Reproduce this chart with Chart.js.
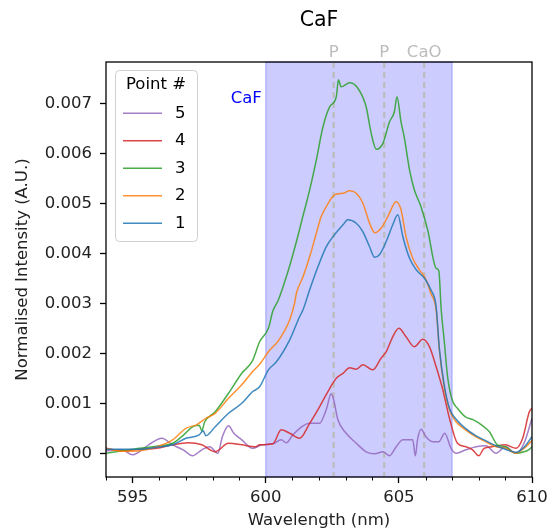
<!DOCTYPE html>
<html lang="en">

<head>
    <meta charset="UTF-8">
    <title>CaF</title>
    <script src="https://cdn.jsdelivr.net/npm/chart.js@4"></script>
    <style>
        body { margin: 0; background: #ffffff; }
    </style>
</head>

<body>
    <canvas id="myChart" width="549" height="531"></canvas>

    <script>
        // Point 1 (blue)
        const wl1 = [594.0, 595.25, 595.9, 596.5, 597.0, 597.5, 597.65, 597.75, 598.1, 598.6, 599.1, 599.5, 599.77, 600.1, 600.4, 600.9, 601.27, 601.4, 601.65, 601.96, 602.27, 602.58, 602.9, 603.08, 603.4, 603.65, 603.9, 604.09, 604.27, 604.52, 604.77, 604.96, 605.15, 605.4, 605.65, 605.96, 606.2, 606.4, 606.52, 606.7, 606.9, 607.15, 607.5, 607.9, 608.27, 608.65, 609.0, 609.4, 609.7, 610.0];
        const int1 = [0.00008, 0.00008, 0.00012, 0.00017, 0.00030, 0.00037, 0.00045, 0.00035, 0.00053, 0.00080, 0.00100, 0.00123, 0.00133, 0.00167, 0.00183, 0.00227, 0.00273, 0.00287, 0.00327, 0.00373, 0.00413, 0.00437, 0.00457, 0.00467, 0.00460, 0.00443, 0.00413, 0.00392, 0.00397, 0.00423, 0.00457, 0.00477, 0.00433, 0.00390, 0.00367, 0.00350, 0.00327, 0.00293, 0.00210, 0.00138, 0.00090, 0.00068, 0.00050, 0.00035, 0.00025, 0.00015, 0.00008, 0.00002, 0.00012, 0.00033];

        // Point 2 (orange)
        const wl2 = [594.0, 594.6, 595.25, 595.9, 596.5, 597.0, 597.4, 597.75, 598.1, 598.6, 599.1, 599.5, 599.8, 600.1, 600.5, 600.9, 601.08, 601.15, 601.4, 601.65, 601.9, 602.08, 602.27, 602.58, 602.9, 603.15, 603.4, 603.65, 603.9, 604.1, 604.33, 604.58, 604.9, 605.08, 605.27, 605.52, 605.77, 606.02, 606.2, 606.4, 606.52, 606.7, 606.9, 607.15, 607.5, 607.9, 608.27, 608.65, 609.0, 609.4, 609.7, 610.0];
        const int2 = [0.00010, 0.00004, 0.00005, 0.00013, 0.00027, 0.00050, 0.00057, 0.00070, 0.00080, 0.00110, 0.00137, 0.00163, 0.00180, 0.00203, 0.00227, 0.00267, 0.00300, 0.00320, 0.00353, 0.00393, 0.00440, 0.00473, 0.00493, 0.00517, 0.00520, 0.00525, 0.00520, 0.00500, 0.00460, 0.00441, 0.00450, 0.00473, 0.00503, 0.00487, 0.00433, 0.00390, 0.00367, 0.00347, 0.00320, 0.00287, 0.00207, 0.00133, 0.00087, 0.00063, 0.00047, 0.00033, 0.00023, 0.00013, 0.00010, 0.00000, 0.00010, 0.00025];

        // Point 3 (green)
        const wl3 = [594.0, 594.5, 595.0, 595.25, 595.9, 596.5, 596.9, 597.25, 597.5, 597.6, 597.7, 598.1, 598.6, 599.1, 599.5, 599.77, 600.1, 600.27, 600.46, 600.65, 600.9, 601.15, 601.4, 601.65, 601.9, 602.15, 602.4, 602.65, 602.73, 602.83, 603.15, 603.46, 603.77, 603.96, 604.15, 604.4, 604.65, 604.83, 604.93, 605.08, 605.2, 605.4, 605.58, 605.83, 606.08, 606.4, 606.5, 606.59, 606.7, 606.83, 607.0, 607.2, 607.5, 607.8, 608.1, 608.4, 608.7, 609.0, 609.4, 609.7, 609.9, 610.0];
        const int3 = [0.00000, 0.00004, 0.00008, 0.00010, 0.00014, 0.00020, 0.00036, 0.00053, 0.00056, 0.00045, 0.00062, 0.00083, 0.00120, 0.00160, 0.00185, 0.00223, 0.00250, 0.00285, 0.00305, 0.00333, 0.00375, 0.00423, 0.00475, 0.00527, 0.00587, 0.00653, 0.00693, 0.00713, 0.00747, 0.00733, 0.00741, 0.00730, 0.00693, 0.00640, 0.00608, 0.00620, 0.00663, 0.00683, 0.00713, 0.00663, 0.00633, 0.00567, 0.00527, 0.00493, 0.00447, 0.00370, 0.00365, 0.00287, 0.00227, 0.00153, 0.00107, 0.00090, 0.00073, 0.00067, 0.00057, 0.00043, 0.00017, 0.00013, 0.00000, 0.00003, 0.00008, 0.00013];

        // Point 4 (red)
        const wl4 = [594.0, 594.6, 595.25, 595.9, 596.5, 597.1, 597.6, 598.1, 598.6, 599.1, 599.6, 599.77, 600.27, 600.58, 600.9, 601.27, 601.65, 602.02, 602.33, 602.65, 602.9, 603.15, 603.4, 603.65, 604.02, 604.33, 604.52, 604.77, 605.0, 605.27, 605.58, 605.9, 606.15, 606.4, 606.65, 606.9, 607.2, 607.52, 607.77, 608.0, 608.2, 608.5, 609.0, 609.4, 609.65, 609.9, 610.0];
        const int4 = [0.00010, 0.00005, 0.00008, 0.00010, 0.00017, 0.00021, 0.00017, 0.00003, 0.00020, 0.00017, 0.00013, 0.00017, 0.00019, 0.00047, 0.00040, 0.00030, 0.00060, 0.00093, 0.00123, 0.00150, 0.00160, 0.00171, 0.00168, 0.00177, 0.00167, 0.00190, 0.00203, 0.00233, 0.00250, 0.00233, 0.00213, 0.00228, 0.00213, 0.00173, 0.00127, 0.00070, 0.00020, 0.00013, 0.00007, -0.00005, 0.00010, 0.00013, 0.00017, 0.00010, 0.00030, 0.00083, 0.00090];

        // Point 5 (purple)
        const wl5 = [594.0, 594.6, 595.0, 595.6, 596.1, 596.5, 596.9, 597.25, 597.6, 597.9, 598.2, 598.37, 598.6, 598.8, 599.1, 599.5, 599.87, 600.27, 600.58, 600.77, 601.02, 601.4, 601.65, 602.02, 602.27, 602.46, 602.55, 602.71, 603.02, 603.4, 603.77, 604.09, 604.4, 604.65, 604.9, 605.15, 605.52, 605.62, 605.7, 605.83, 606.02, 606.27, 606.5, 606.72, 606.96, 607.15, 607.52, 607.9, 608.27, 608.65, 609.0, 609.4, 609.7, 610.0];
        const int5 = [0.00005, 0.00007, -0.00003, 0.00017, 0.00030, 0.00017, 0.00007, -0.00005, 0.00007, 0.00013, 0.00000, 0.00033, 0.00055, 0.00040, 0.00027, 0.00010, 0.00017, 0.00019, 0.00027, 0.00021, 0.00037, 0.00055, 0.00060, 0.00060, 0.00087, 0.00119, 0.00107, 0.00067, 0.00040, 0.00020, 0.00003, -0.00001, 0.00003, -0.00005, 0.00013, 0.00027, 0.00027, -0.00005, 0.00027, 0.00048, 0.00033, 0.00023, 0.00023, 0.00040, 0.00010, 0.00000, 0.00007, 0.00013, 0.00015, 0.00000, 0.00013, 0.00000, 0.00020, 0.00070];

        const pointLabels = ['1', '2', '3', '4', '5'];
        const pointColors = ['rgba(31,119,180,0.85)', 'rgba(255,127,14,0.85)', 'rgba(44,160,44,0.85)', 'rgba(214,39,40,0.85)', 'rgba(148,103,189,0.85)'];

        // ticks
        const xTicks = [595, 600, 605, 610];
        const yTicks = [0, 0.001, 0.002, 0.003, 0.004, 0.005, 0.006, 0.007];

        // CaF band and reference lines
        const bandStart = 600;
        const bandEnd = 607;
        const lineMarks = [602.55, 604.45, 605.95];
        const lineNames = ['P', 'P', 'CaO'];

        const FONT = 'DejaVu Sans';

        function toXY(xs, ys) {
            return xs.map((v, i) => ({ x: v, y: ys[i] }));
        }

        const allX = [wl1, wl2, wl3, wl4, wl5];
        const allY = [int1, int2, int3, int4, int5];

        let datasets = [];
        for (let i = 0; i < pointLabels.length; i++) {
            datasets.push({
                label: pointLabels[i],
                data: toXY(allX[i], allY[i]),
                borderColor: pointColors[i],
                borderWidth: 1.5,
                borderJoinStyle: 'round',
                pointRadius: 0,
                cubicInterpolationMode: 'monotone',
                fill: false
            });
        }

        // band, dashed lines, frame, minor ticks, texts and legend
        const extras = {
            id: 'extras',
            beforeDatasetsDraw(chart) {
                const ctx = chart.ctx;
                const a = chart.chartArea;
                const xs = chart.scales.x;
                const x0 = xs.getPixelForValue(bandStart);
                const x1 = xs.getPixelForValue(bandEnd);
                ctx.save();
                ctx.fillStyle = 'rgba(0,0,255,0.2)';
                ctx.fillRect(x0, a.top, x1 - x0, a.bottom - a.top);
                ctx.strokeStyle = 'rgba(0,0,255,0.2)';
                ctx.lineWidth = 1.5;
                ctx.strokeRect(x0, a.top, x1 - x0, a.bottom - a.top);

                ctx.strokeStyle = '#bcbcbc';
                ctx.lineWidth = 2.2;
                ctx.setLineDash([6, 4]);
                lineMarks.forEach(m => {
                    const px = xs.getPixelForValue(m);
                    ctx.beginPath();
                    ctx.moveTo(px, a.top);
                    ctx.lineTo(px, a.bottom);
                    ctx.stroke();
                });
                ctx.restore();
            },
            afterDraw(chart) {
                const ctx = chart.ctx;
                const a = chart.chartArea;
                const xs = chart.scales.x;
                ctx.save();

                // frame
                ctx.strokeStyle = '#000';
                ctx.lineWidth = 1.3;
                ctx.strokeRect(a.left, a.top, a.right - a.left, a.bottom - a.top);

                // minor ticks
                ctx.lineWidth = 1;
                for (let v = 594; v <= 610; v++) {
                    if (xTicks.includes(v)) continue;
                    const px = Math.round(xs.getPixelForValue(v)) + 0.5;
                    ctx.beginPath();
                    ctx.moveTo(px, a.bottom);
                    ctx.lineTo(px, a.bottom + 3.5);
                    ctx.stroke();
                }

                // title
                ctx.fillStyle = '#000';
                ctx.font = '20.5px "' + FONT + '"';
                ctx.textAlign = 'center';
                ctx.textBaseline = 'middle';
                ctx.fillText('CaF', (a.left + a.right) / 2, 21);

                // line names above the axes
                ctx.font = '16.5px "' + FONT + '"';
                ctx.fillStyle = '#bcbcbc';
                ctx.textBaseline = 'alphabetic';
                lineMarks.forEach((m, i) => {
                    ctx.fillText(lineNames[i], xs.getPixelForValue(m), a.top - 5);
                });

                // band name
                ctx.fillStyle = '#0000ff';
                ctx.textAlign = 'right';
                ctx.fillText('CaF', xs.getPixelForValue(bandStart) - 4, 103);

                // legend
                const lx = 115, ly = 70, lw = 82, lh = 171;
                ctx.fillStyle = 'rgba(255,255,255,0.8)';
                ctx.strokeStyle = '#d0d0d0';
                ctx.lineWidth = 1;
                ctx.beginPath();
                ctx.roundRect(lx + 0.5, ly + 0.5, lw, lh, 4);
                ctx.fill();
                ctx.stroke();

                ctx.fillStyle = '#000';
                ctx.textAlign = 'center';
                ctx.textBaseline = 'middle';
                ctx.fillText('Point #', lx + lw / 2, 85);

                ctx.textAlign = 'left';
                const order = [4, 3, 2, 1, 0];
                order.forEach((k, j) => {
                    const yy = 113.3 + j * 27.5;
                    ctx.strokeStyle = pointColors[k];
                    ctx.lineWidth = 1.5;
                    ctx.beginPath();
                    ctx.moveTo(123, yy);
                    ctx.lineTo(162, yy);
                    ctx.stroke();
                    ctx.fillStyle = '#000';
                    ctx.fillText(pointLabels[k], 175, yy);
                });

                ctx.restore();
            }
        };

        const config = {
            type: 'line',
            data: { datasets: datasets },
            options: {
                responsive: false,
                animation: false,
                layout: { padding: { top: 62, right: 17, left: 0, bottom: 0 } },
                plugins: {
                    legend: { display: false },
                    title: { display: false },
                    tooltip: { enabled: false }
                },
                scales: {
                    x: {
                        type: 'linear',
                        min: 594,
                        max: 610,
                        afterBuildTicks: s => { s.ticks = xTicks.map(v => ({ value: v })); },
                        afterFit: s => { s.height = 54; s.paddingLeft = 0; s.paddingRight = 0; },
                        ticks: {
                            color: '#222',
                            font: { family: FONT, size: 16.5 },
                            padding: 5,
                            maxRotation: 0,
                            autoSkip: false,
                            callback: v => String(v)
                        },
                        grid: { drawOnChartArea: false, tickLength: 6, tickWidth: 1.3, tickColor: '#000' },
                        border: { display: false },
                        title: {
                            display: true,
                            text: 'Wavelength (nm)',
                            color: '#222',
                            font: { family: FONT, size: 16.5 },
                            padding: { top: 0, bottom: 0 }
                        }
                    },
                    y: {
                        type: 'linear',
                        min: -0.000474,
                        max: 0.007826,
                        afterBuildTicks: s => { s.ticks = yTicks.map(v => ({ value: v })); },
                        afterFit: s => { s.width = 106; s.paddingTop = 0; s.paddingBottom = 0; },
                        ticks: {
                            color: '#222',
                            font: { family: FONT, size: 16.5 },
                            padding: 8,
                            autoSkip: false,
                            callback: v => v.toFixed(3)
                        },
                        grid: { drawOnChartArea: false, tickLength: 6, tickWidth: 1.3, tickColor: '#000' },
                        border: { display: false },
                        title: {
                            display: true,
                            text: 'Normalised Intensity (A.U.)',
                            color: '#222',
                            font: { family: FONT, size: 16.5 },
                            padding: { top: 13, bottom: 0 }
                        }
                    }
                }
            },
            plugins: [extras]
        };

        let myChart = new Chart(document.getElementById('myChart'), config);
    </script>
</body>

</html>
